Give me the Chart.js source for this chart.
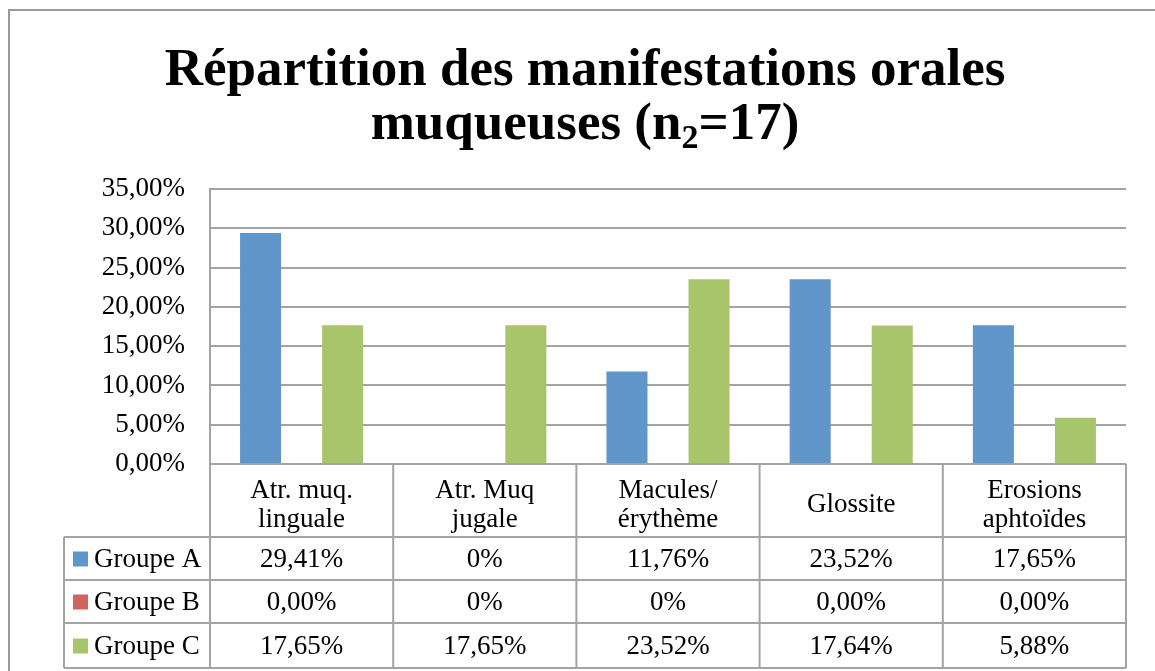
<!DOCTYPE html>
<html>
<head>
<meta charset="utf-8">
<script src="https://cdn.jsdelivr.net/npm/chart.js@4/dist/chart.umd.min.js"></script>
<style>
html,body{margin:0;padding:0;background:#fff;}
canvas{display:block;}
</style>
</head>
<body>
<canvas id="c" width="1155" height="671"></canvas>
<script>
const titleLine1 = 'Répartition des manifestations orales';
const titleLine2 = ['muqueuses (n', '2', '=17)'];
const categories = [['Atr. muq.', 'linguale'], ['Atr. Muq', 'jugale'], ['Macules/', 'érythème'], ['Glossite'], ['Erosions', 'aphtoïdes']];
const seriesNames = ['Groupe A', 'Groupe B', 'Groupe C'];
const groupA = [29.41, 0, 11.76, 23.52, 17.65];
const groupB = [0, 0, 0, 0, 0];
const groupC = [17.65, 17.65, 23.52, 17.64, 5.88];
const tableA = ['29,41%', '0%', '11,76%', '23,52%', '17,65%'];
const tableB = ['0,00%', '0%', '0%', '0,00%', '0,00%'];
const tableC = ['17,65%', '17,65%', '23,52%', '17,64%', '5,88%'];
const yTickLabels = ['0,00%', '5,00%', '10,00%', '15,00%', '20,00%', '25,00%', '30,00%', '35,00%'];
const colors = ['#6096CA', '#D0645E', '#A9C56B'];

const FONT = "'Liberation Serif', 'DejaVu Serif', serif";
const LINE = '#a3a3a3';

const tablePlugin = {
  id: 'tablePlugin',
  beforeDraw(chart) {
    const ctx = chart.ctx;
    ctx.save();
    ctx.strokeStyle = '#9a9a9a';
    ctx.lineWidth = 2;
    ctx.beginPath();
    ctx.moveTo(9, 671);
    ctx.lineTo(9, 10);
    ctx.lineTo(1155, 10);
    ctx.stroke();
    // title
    ctx.fillStyle = '#000';
    ctx.textBaseline = 'alphabetic';
    ctx.textAlign = 'left';
    const big = "bold 53px " + FONT;
    const small = "bold 34px " + FONT;
    ctx.font = big;
    const w1 = ctx.measureText(titleLine1).width;
    const cx = 585;
    ctx.fillText(titleLine1, cx - w1 / 2, 85);
    const wa = ctx.measureText(titleLine2[0]).width;
    const wc = ctx.measureText(titleLine2[2]).width;
    ctx.font = small;
    const wb = ctx.measureText(titleLine2[1]).width;
    let x = cx - (wa + wb + wc) / 2;
    ctx.font = big;
    ctx.fillText(titleLine2[0], x, 139);
    x += wa;
    ctx.font = small;
    ctx.fillText(titleLine2[1], x, 148);
    x += wb;
    ctx.font = big;
    ctx.fillText(titleLine2[2], x, 139);
    ctx.restore();
  },
  afterDraw(chart) {
    const ctx = chart.ctx;
    const xs = chart.scales.x;
    const area = chart.chartArea;
    const n = categories.length;
    const colW = (area.right - area.left) / n;
    const top = area.bottom;
    const rowTops = [537, 580, 623];
    const bottom = 668;
    const tableLeft = 64;
    ctx.save();
    ctx.strokeStyle = LINE;
    ctx.lineWidth = 2;
    ctx.beginPath();
    ctx.moveTo(area.left, top); ctx.lineTo(area.right, top);
    rowTops.forEach(y => { ctx.moveTo(tableLeft, y); ctx.lineTo(area.right, y); });
    ctx.moveTo(tableLeft, bottom); ctx.lineTo(area.right, bottom);
    for (let i = 0; i <= n; i++) {
      const xx = area.left + i * colW;
      ctx.moveTo(xx, top); ctx.lineTo(xx, bottom);
    }
    ctx.moveTo(tableLeft, rowTops[0]); ctx.lineTo(tableLeft, bottom);
    ctx.stroke();
    ctx.font = "27px " + FONT;
    ctx.fillStyle = '#000';
    ctx.textBaseline = 'middle';
    ctx.textAlign = 'center';
    // category header labels, centred vertically in header cell
    const lh = 29;
    const headCy = 505;
    categories.forEach((lines, i) => {
      const cxp = xs.getPixelForValue(i);
      const y0 = headCy - (lines.length - 1) * lh / 2;
      lines.forEach((t, k) => ctx.fillText(t, cxp, y0 + k * lh));
    });
    const rows = [tableA, tableB, tableC];
    rows.forEach((row, r) => {
      const y0 = rowTops[r];
      const y1 = r < 2 ? rowTops[r + 1] : bottom;
      const cy = (y0 + y1) / 2;
      ctx.fillStyle = colors[r];
      ctx.fillRect(73, cy - 7, 15, 15);
      ctx.fillStyle = '#000';
      ctx.textAlign = 'left';
      ctx.fillText(seriesNames[r], 94, cy + 1);
      ctx.textAlign = 'center';
      row.forEach((t, i) => {
        ctx.fillText(t, xs.getPixelForValue(i), cy + 1);
      });
    });
    ctx.restore();
  }
};

new Chart(document.getElementById('c'), {
  type: 'bar',
  data: {
    labels: categories,
    datasets: [
      { label: seriesNames[0], data: groupA, backgroundColor: colors[0] },
      { label: seriesNames[1], data: groupB, backgroundColor: colors[1] },
      { label: seriesNames[2], data: groupC, backgroundColor: colors[2] }
    ]
  },
  options: {
    responsive: false,
    animation: false,
    devicePixelRatio: 1,
    datasets: { bar: { barPercentage: 1, categoryPercentage: 0.672 } },
    layout: { padding: { left: 0, right: 29, top: 189, bottom: 0 } },
    plugins: { legend: { display: false }, title: { display: false }, tooltip: { enabled: false } },
    scales: {
      x: {
        grid: { display: false, drawTicks: false },
        border: { display: false },
        ticks: { display: false },
        afterFit(s) { s.height = 207; }
      },
      y: {
        min: 0, max: 35,
        grid: { color: LINE, lineWidth: 2, drawTicks: false },
        border: { display: true, color: LINE, width: 2 },
        ticks: {
          stepSize: 5,
          color: '#000',
          padding: 25,
          font: { family: FONT, size: 27 },
          callback: (v) => yTickLabels[Math.round(v / 5)]
        },
        afterFit(s) { s.width = 210; }
      }
    }
  },
  plugins: [tablePlugin]
});
</script>
</body>
</html>
